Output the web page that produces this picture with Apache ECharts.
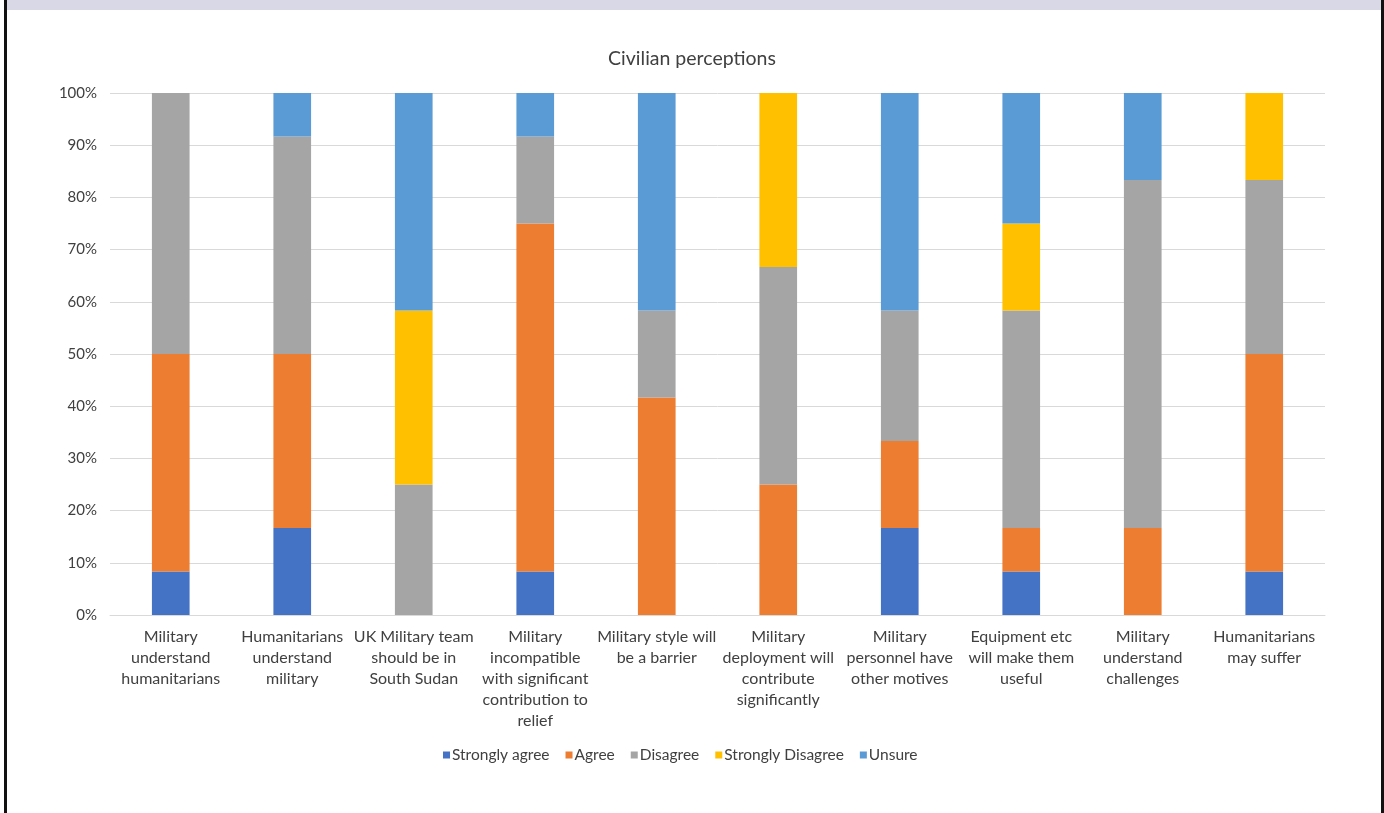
<!DOCTYPE html>
<html>
<head>
<meta charset="utf-8">
<script src="https://cdn.jsdelivr.net/npm/echarts@6/dist/echarts.min.js"></script>
<style>
  html, body { margin: 0; padding: 0; background: #fff; }
  #frame { position: absolute; left: 0; top: 0; width: 1384px; height: 813px; overflow: hidden; background: #fff; }
  #band { position: absolute; left: 7px; top: 0; width: 1374px; height: 10px; background: #d9d8e7; }
  #lb { position: absolute; left: 4px; top: 0; width: 3px; height: 813px; background: #111; }
  #rb { position: absolute; left: 1381px; top: 0; width: 3px; height: 813px; background: #111; }
  #chart { position: absolute; left: 0; top: 0; width: 1384px; height: 813px; }
</style>
</head>
<body>
<div id="frame">
  <div id="chart"></div>
  <div id="band"></div>
  <div id="lb"></div>
  <div id="rb"></div>
</div>
<script>
const categories = [
  'Military\nunderstand\nhumanitarians',
  'Humanitarians\nunderstand\nmilitary',
  'UK Military team\nshould be in\nSouth Sudan',
  'Military\nincompatible\nwith significant\ncontribution to\nrelief',
  'Military style will\nbe a barrier',
  'Military\ndeployment will\ncontribute\nsignificantly',
  'Military\npersonnel have\nother motives',
  'Equipment etc\nwill make them\nuseful',
  'Military\nunderstand\nchallenges',
  'Humanitarians\nmay suffer'
];
const seriesNames = ['Strongly agree', 'Agree', 'Disagree', 'Strongly Disagree', 'Unsure'];
const stronglyAgree    = [8.33, 16.67, 0,     8.33,  0,     0,     16.67, 8.33,  0,     8.33];
const agree            = [41.67, 33.33, 0,    66.67, 41.67, 25,    16.67, 8.33,  16.67, 41.67];
const disagree         = [50,    41.67, 25,   16.67, 16.67, 41.67, 25,    41.67, 66.67, 33.33];
const stronglyDisagree = [0,     0,     33.33, 0,    0,     33.33, 0,     16.67, 0,     16.67];
const unsure           = [0,     8.33,  41.67, 8.33, 41.67, 0,     41.67, 25,    16.67, 0];
const yTicks = [0, 10, 20, 30, 40, 50, 60, 70, 80, 90, 100];

const colors = ['#4472C4', '#ED7D31', '#A5A5A5', '#FFC000', '#5B9BD5'];
const values = [stronglyAgree, agree, disagree, stronglyDisagree, unsure];

const chart = echarts.init(document.getElementById('chart'), null, { renderer: 'canvas' });
chart.setOption({
  animation: false,
  color: colors,
  title: {
    text: 'Civilian perceptions',
    left: 'center',
    top: 44,
    textStyle: { fontFamily: 'Lato', fontSize: 19.5, fontWeight: 'normal', color: '#404040' }
  },
  legend: {
    data: seriesNames,
    bottom: 45,
    left: 438,
    icon: 'rect',
    itemWidth: 7,
    itemHeight: 7,
    itemGap: 16,
    textStyle: { fontFamily: 'Lato', fontSize: 15.5, color: '#404040', padding: [0, 0, 0, -3] }
  },
  grid: { left: 110, right: 59, top: 93, bottom: 198, containLabel: false },
  xAxis: {
    type: 'category',
    data: categories,
    axisLine: { lineStyle: { color: '#d9d9d9', width: 1 } },
    axisTick: { show: false },
    axisLabel: {
      interval: 0,
      fontFamily: 'Lato',
      fontSize: 16,
      lineHeight: 21,
      color: '#404040',
      margin: 11,
      align: 'center'
    }
  },
  yAxis: {
    type: 'value',
    min: 0,
    max: 100,
    interval: 10,
    axisLine: { show: false },
    axisTick: { show: false },
    splitLine: { lineStyle: { color: '#d9d9d9', width: 1 } },
    axisLabel: {
      fontFamily: 'Lato',
      fontSize: 15,
      color: '#404040',
      margin: 13,
      formatter: v => (yTicks.includes(v) ? v + '%' : '')
    }
  },
  series: seriesNames.map((name, i) => ({
    name,
    type: 'bar',
    stack: 'total',
    barWidth: '31%',
    data: values[i],
    itemStyle: { color: colors[i] }
  }))
});
</script>
</body>
</html>
